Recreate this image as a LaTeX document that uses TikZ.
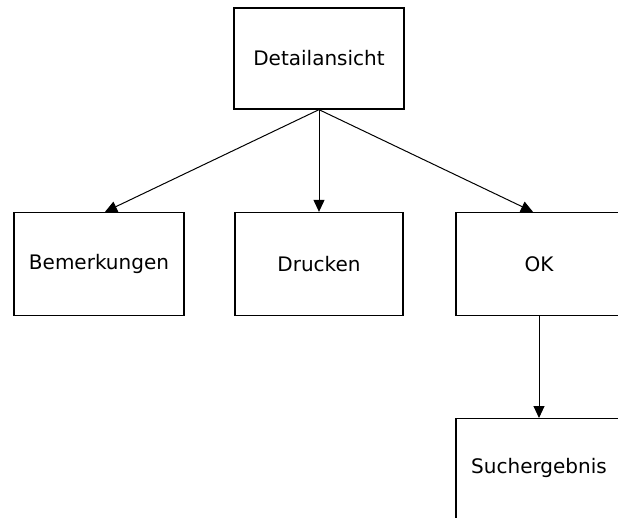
\documentclass[tikz,border=0pt]{standalone}
\usepackage{fontspec}
\setmainfont{DejaVu Sans}
\usetikzlibrary{arrows.meta,positioning}
\tikzset{
  screen/.style={rectangle,draw=black,fill=white,line width=1.3pt,inner sep=0pt,
                 minimum width=168pt,minimum height=103pt,font=\fontsize{20}{24}\selectfont},
  nav/.style={-{Triangle[length=12pt,width=11pt]},draw=black,line width=1pt},
}
\begin{document}
\begin{tikzpicture}[x=1pt,y=-1pt]
  \clip (0,0) rectangle (618,517);
  \fill[white] (0,0) rectangle (618,517);
  % screens
  \node[screen,minimum width=170pt,minimum height=101pt] (detail) at (319,58.5) {Detailansicht};
  \node[screen,minimum width=170pt] (bemerk) at (99,264) {Bemerkungen};
  \node[screen] (drucken) at (319,264) {Drucken};
  \node[screen,minimum width=166pt] (ok) at (539,264) {OK};
  \node[screen,minimum width=166pt,text height=55pt,text depth=55pt,anchor=north]
    (such) at (539,418) {Suchergebnis};
  % navigation
  \draw[nav] (detail.south) -- ([xshift=6pt]bemerk.north);
  \draw[nav] (detail.south) -- (drucken.north);
  \draw[nav] (detail.south) -- ([xshift=-6pt]ok.north);
  \draw[nav] (ok.south) -- (such.north);
\end{tikzpicture}
\end{document}
